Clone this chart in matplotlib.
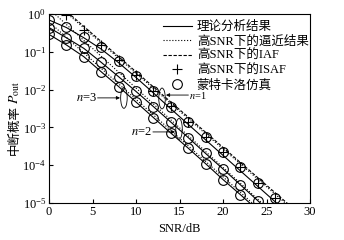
import matplotlib
matplotlib.use('Agg')
import numpy as np
import matplotlib.pyplot as plt
from matplotlib.patches import Ellipse

plt.rcParams['font.family'] = ['Liberation Serif', 'Noto Sans CJK SC']
plt.rcParams['mathtext.fontset'] = 'stix'
plt.rcParams['font.size'] = 8

# SNR points (dB) and log10 of outage probability
snr = [0, 2, 4, 6, 8, 10, 12, 14, 16, 18, 20, 22, 24, 26, 28]

# n=1 (top group)
n1_exact = [-0.16, -0.36, -0.63, -0.93, -1.29, -1.68, -2.09, -2.51, -2.92, -3.33, -3.74, -4.15, -4.56, -4.97, -5.38]
n1_asym = [0.43, 0.03, -0.37, -0.77, -1.17, -1.57, -1.97, -2.37, -2.77, -3.17, -3.57, -3.97, -4.37, -4.77, -5.17]
n1_iaf = [0.47, 0.07, -0.33, -0.73, -1.13, -1.53, -1.93, -2.33, -2.73, -3.13, -3.53, -3.93, -4.33, -4.73, -5.13]
n1_sim = [-0.16, -0.34, -0.60, -0.88, -1.25, -1.63, -2.04, -2.45, -2.85, -3.25, -3.65, -4.05, -4.46, -4.86]
isaf_snr = [2, 4, 6, 8, 10, 12, 14, 16, 18, 20, 22, 24, 26]
n1_isaf = [-0.03, -0.42, -0.83, -1.22, -1.62, -2.03, -2.44, -2.85, -3.25, -3.65, -4.05, -4.46, -4.86]

# n=2 (middle group)
n2_exact = [-0.36, -0.63, -0.91, -1.28, -1.66, -2.05, -2.45, -2.86, -3.27, -3.69, -4.10, -4.52, -4.94, -5.36]
n2_asym = [0.14, -0.28, -0.70, -1.12, -1.54, -1.96, -2.38, -2.80, -3.22, -3.64, -4.06, -4.48, -4.90, -5.32]
n2_sim = [-0.36, -0.63, -0.91, -1.28, -1.66, -2.05, -2.45, -2.86, -3.27, -3.69, -4.10, -4.52, -4.94]

# n=3 (bottom group)
n3_exact = [-0.54, -0.82, -1.13, -1.53, -1.92, -2.33, -2.74, -3.15, -3.55, -3.96, -4.38, -4.78, -5.19]
n3_asym = [-0.21, -0.62, -1.03, -1.44, -1.85, -2.26, -2.67, -3.08, -3.49, -3.90, -4.31, -4.72, -5.13]
n3_sim = [-0.54, -0.82, -1.13, -1.53, -1.92, -2.33, -2.74, -3.15, -3.55, -3.96, -4.38, -4.78]


def P(v):
    return 10.0 ** np.array(v)


fig = plt.figure(figsize=(3.44, 2.40), dpi=100)
ax = fig.add_axes([0.1424, 0.154, 0.759, 0.788])

lw = 0.8
ms_o = 7
ax.plot(snr[:len(n1_exact)], P(n1_exact), 'k-', lw=lw, label='理论分析结果')
ax.plot(snr[:len(n1_asym)], P(n1_asym), 'k:', lw=lw, label='高SNR下的逼近结果')
ax.plot(snr[:len(n1_iaf)], P(n1_iaf), 'k--', lw=lw, dashes=(3, 1.5), label='高SNR下的IAF')
ax.plot(isaf_snr, P(n1_isaf), 'k+', ms=7, mew=0.8, ls='none', label='高SNR下的ISAF')
ax.plot(snr[:len(n1_sim)], P(n1_sim), 'ko', mfc='none', ms=ms_o, mew=0.8, ls='none', label='蒙特卡洛仿真')

ax.plot(snr[:len(n2_exact)], P(n2_exact), 'k-', lw=lw)
ax.plot(snr[:len(n2_asym)], P(n2_asym), 'k:', lw=lw)
ax.plot(snr[:len(n2_sim)], P(n2_sim), 'ko', mfc='none', ms=ms_o, mew=0.8, ls='none')

ax.plot(snr[:len(n3_exact)], P(n3_exact), 'k-', lw=lw)
ax.plot(snr[:len(n3_asym)], P(n3_asym), 'k:', lw=lw)
ax.plot(snr[:len(n3_sim)], P(n3_sim), 'ko', mfc='none', ms=ms_o, mew=0.8, ls='none')

ax.set_yscale('log')
ax.set_xlim(0, 30)
ax.set_ylim(1e-5, 1)
ax.set_xticks([0, 5, 10, 15, 20, 25, 30])
ax.set_yticks([1e-5, 1e-4, 1e-3, 1e-2, 1e-1, 1])
ax.minorticks_off()
ax.tick_params(direction='in', length=3, width=0.8, labelsize=9, pad=2)
for s in ax.spines.values():
    s.set_linewidth(0.8)

ax.set_xlabel('SNR/dB', fontsize=9, labelpad=4)

# y label: Chinese part as plain text, P_out as mathtext just above it
fig.text(0.042, 0.46, '中断概率', rotation=90, ha='center', va='center', fontsize=9)
fig.text(0.042, 0.615, r'$P_{\mathrm{out}}$', rotation=90, ha='center', va='center', fontsize=10)

# ellipses marking the curve pairs and their labels
for cx, cy in [(0.287, 0.556), (0.433, 0.553), (0.498, 0.392)]:
    ax.add_patch(Ellipse((cx, cy), 0.025, 0.11, transform=ax.transAxes,
                         fill=False, lw=0.6, color='k'))

arr = dict(arrowstyle='-|>', color='k', lw=0.6, mutation_scale=5, shrinkA=0, shrinkB=0)
ax.annotate('', xy=(0.272, 0.556), xytext=(0.186, 0.556), xycoords='axes fraction', arrowprops=arr)
ax.text(0.183, 0.556, r'$n$=3', transform=ax.transAxes, ha='right', va='center', fontsize=9)
ax.annotate('', xy=(0.448, 0.571), xytext=(0.534, 0.571), xycoords='axes fraction', arrowprops=arr)
ax.text(0.537, 0.571, r'$n$=1', transform=ax.transAxes, ha='left', va='center', fontsize=7.5)
ax.annotate('', xy=(0.483, 0.376), xytext=(0.398, 0.376), xycoords='axes fraction', arrowprops=arr)
ax.text(0.395, 0.376, r'$n$=2', transform=ax.transAxes, ha='right', va='center', fontsize=9)

ax.legend(loc='upper left', bbox_to_anchor=(0.437, 0.964), frameon=False, fontsize=9,
          borderaxespad=0, borderpad=0, handlelength=2.3, handletextpad=0.4,
          labelspacing=0.2)

fig.savefig('out.png', dpi=100)
